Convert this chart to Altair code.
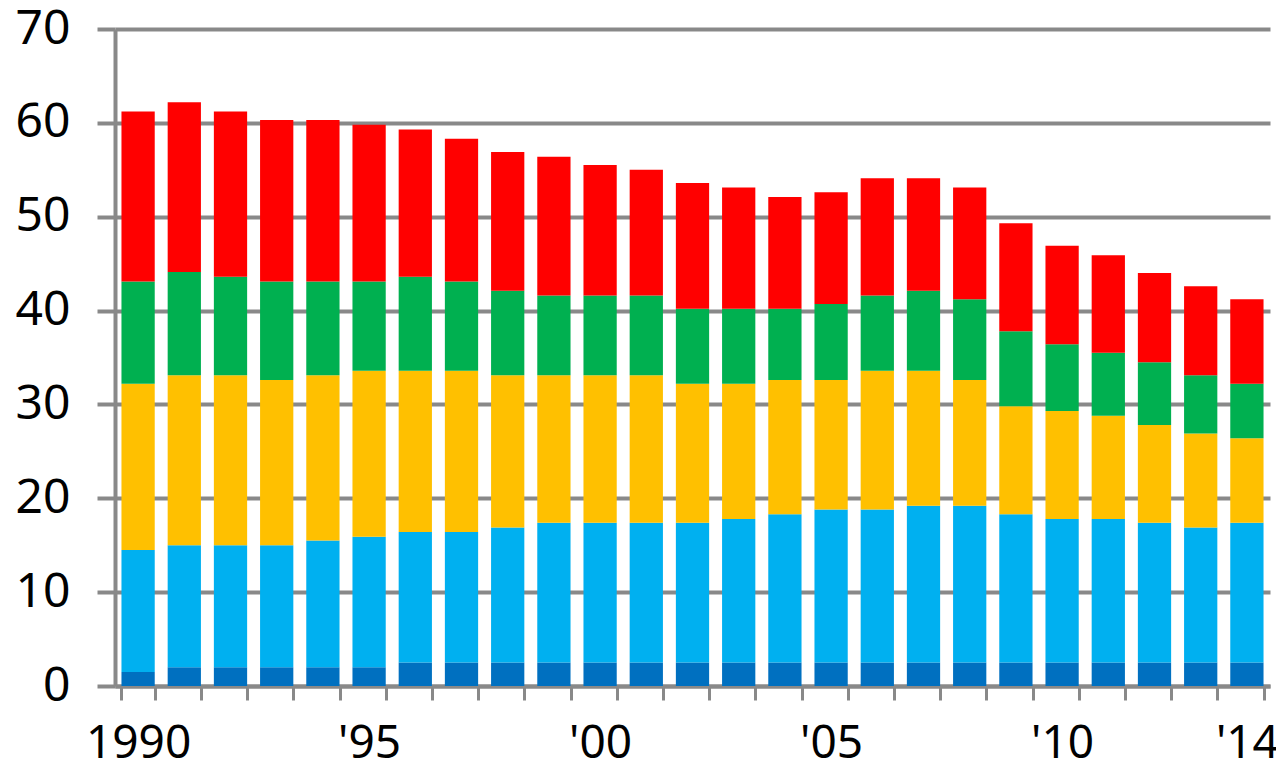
import altair as alt
import pandas as pd

years = list(range(1990, 2015))
series = ["s1", "s2", "s3", "s4", "s5"]
colors = ["#0070C0", "#00B0F0", "#FFC000", "#00B050", "#FF0000"]

s1 = [1.5, 2.0, 2.0, 2.0, 2.0, 2.0, 2.5, 2.5, 2.5, 2.5, 2.5, 2.5, 2.5,
      2.5, 2.5, 2.5, 2.5, 2.5, 2.5, 2.5, 2.5, 2.5, 2.5, 2.5, 2.5]
s2 = [13.0, 13.0, 13.0, 13.0, 13.5, 13.9, 13.9, 13.9, 14.4, 14.9, 14.9, 14.9, 14.9,
      15.3, 15.8, 16.3, 16.3, 16.7, 16.7, 15.8, 15.3, 15.3, 14.9, 14.4, 14.9]
s3 = [17.7, 18.1, 18.1, 17.6, 17.6, 17.7, 17.2, 17.2, 16.2, 15.7, 15.7, 15.7, 14.8,
      14.4, 14.3, 13.8, 14.8, 14.4, 13.4, 11.5, 11.5, 11.0, 10.4, 10.0, 9.0]
s4 = [10.9, 11.0, 10.5, 10.5, 10.0, 9.5, 10.0, 9.5, 9.0, 8.5, 8.5, 8.5, 8.0,
      8.0, 7.6, 8.1, 8.0, 8.5, 8.6, 8.0, 7.1, 6.7, 6.7, 6.2, 5.8]
s5 = [18.1, 18.1, 17.6, 17.2, 17.2, 16.7, 15.7, 15.2, 14.8, 14.8, 13.9, 13.4, 13.4,
      12.9, 11.9, 11.9, 12.5, 12.0, 11.9, 11.5, 10.5, 10.4, 9.5, 9.5, 9.0]

tick_labels = {1990: "1990", 1995: "'95", 2000: "'00", 2005: "'05", 2010: "'10", 2014: "'14"}
y_ticks = [0, 10, 20, 30, 40, 50, 60, 70]

rows = []
for i, yr in enumerate(years):
    for k, (name, vals) in enumerate(zip(series, [s1, s2, s3, s4, s5])):
        rows.append({"year": yr, "series": name, "order": k, "value": vals[i]})
df = pd.DataFrame(rows)

label_expr = " : ".join(f'datum.value == {y} ? "{t}"' for y, t in tick_labels.items()) + ' : ""'

grey = "#898989"
font = "Noto Sans"

chart = alt.Chart(df).mark_bar().encode(
    x=alt.X(
        "year:O",
        scale=alt.Scale(paddingInner=0.28, paddingOuter=0.14),
        axis=alt.Axis(
            title=None,
            labelExpr=label_expr,
            labelAngle=0,
            tickBand="extent",
            ticks=True,
            tickSize=14,
            tickWidth=3,
            tickColor=grey,
            domainColor=grey,
            domainWidth=4,
            labelFont=font,
            labelFontSize=46,
            labelColor="#000000",
            labelPadding=21,
            grid=False,
        ),
    ),
    y=alt.Y(
        "value:Q",
        stack="zero",
        scale=alt.Scale(domain=[0, 70], nice=False),
        axis=alt.Axis(
            title=None,
            values=y_ticks,
            tickSize=18,
            tickWidth=4,
            tickColor=grey,
            domainColor=grey,
            domainWidth=4,
            gridColor=grey,
            gridWidth=4,
            labelFont=font,
            labelFontSize=48,
            labelColor="#000000",
            labelPadding=27,
        ),
    ),
    color=alt.Color("series:N", scale=alt.Scale(domain=series, range=colors), legend=None),
    order=alt.Order("order:Q"),
).properties(
    width=1155,
    height=657,
    autosize=alt.AutoSizeParams(type="none"),
    padding={"left": 107, "top": 21, "right": 6, "bottom": 74},
).configure_view(stroke=None)

chart.save("out.html", embed_options={"renderer": "svg", "actions": False})
